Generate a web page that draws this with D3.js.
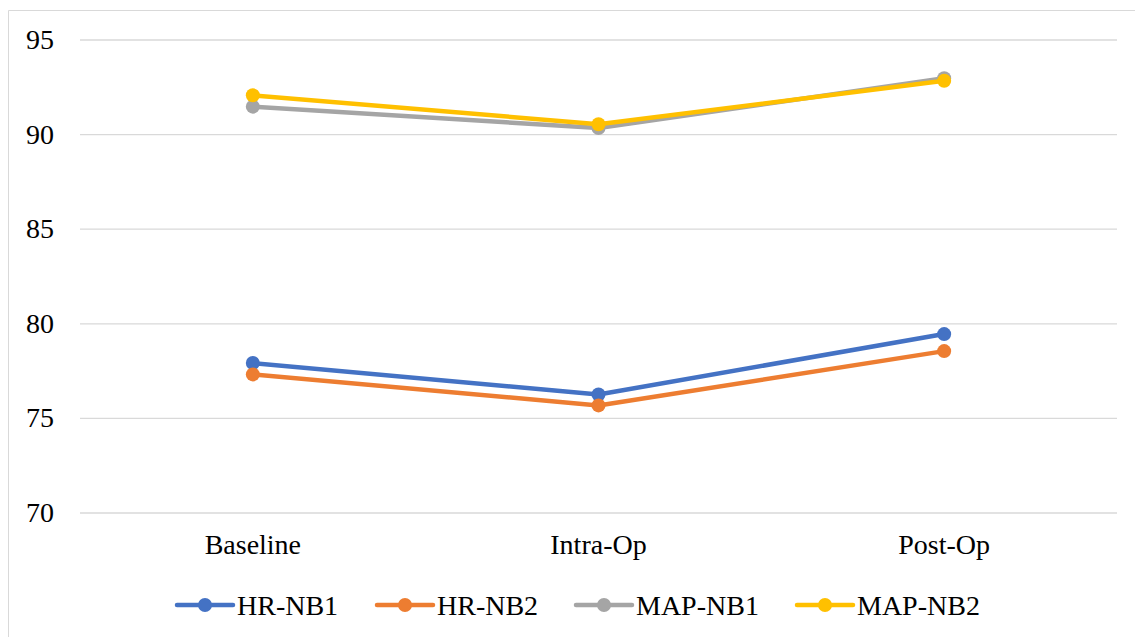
<!DOCTYPE html>
<html><head><meta charset="utf-8">
<script src="https://cdn.jsdelivr.net/npm/d3@7"></script>
<style>body{margin:0;background:#fff}svg{display:block}</style>
</head><body>
<svg id="chart" width="1135" height="637"></svg>
<script>
const categories = ["Baseline", "Intra-Op", "Post-Op"];
const seriesNames = ["HR-NB1", "HR-NB2", "MAP-NB1", "MAP-NB2"];
const hrNB1 = [77.9, 76.24, 79.43];
const hrNB2 = [77.3, 75.66, 78.53];
const mapNB1 = [91.45, 90.32, 92.95];
const mapNB2 = [92.05, 90.52, 92.82];
const yTicks = [70, 75, 80, 85, 90, 95];
const colors = ["#4472C4", "#ED7D31", "#A5A5A5", "#FFC000"];

(function () {
const series = [hrNB1, hrNB2, mapNB1, mapNB2].map((v, i) => ({name: seriesNames[i], values: v, color: colors[i]}));

const svg = d3.select("#chart");
const font = "'Liberation Serif', 'Times New Roman', serif";

svg.append("path").attr("d", "M8.5,637 V10.5 H1135").attr("fill", "none").attr("stroke", "#d9d9d9").attr("stroke-width", 1);

const pLeft = 80, pRight = 1117, pTop = 39.5, pBottom = 512.5;
const x = d3.scaleBand().domain(categories).range([pLeft, pRight]);
const y = d3.scaleLinear().domain([70, 95]).range([pBottom, pTop]);

const yAxis = d3.axisLeft(y).tickValues(yTicks).tickSize(-(pRight - pLeft)).tickPadding(26).tickFormat(d3.format("d"));
const gy = svg.append("g").attr("transform", `translate(${pLeft},0)`).call(yAxis);
gy.select(".domain").remove();
gy.selectAll(".tick line").attr("stroke", "#d9d9d9").attr("stroke-width", 1.3);
gy.selectAll(".tick text").attr("font-family", font).attr("font-size", 28).attr("fill", "#000");

const xAxis = d3.axisBottom(x).tickSize(0).tickPadding(22);
const gx = svg.append("g").attr("transform", `translate(0,${pBottom})`).call(xAxis);
gx.select(".domain").remove();
gx.selectAll(".tick text").attr("font-family", font).attr("font-size", 28).attr("fill", "#000");

const line = d3.line().x((d, i) => x(categories[i]) + x.bandwidth() / 2).y(d => y(d));

series.forEach(s => {
  const g = svg.append("g");
  g.append("path").datum(s.values).attr("d", line).attr("fill", "none")
    .attr("stroke", s.color).attr("stroke-width", 4.5).attr("stroke-linejoin", "round").attr("stroke-linecap", "round");
  g.selectAll("circle").data(s.values).enter().append("circle")
    .attr("cx", (d, i) => x(categories[i]) + x.bandwidth() / 2)
    .attr("cy", d => y(d)).attr("r", 7).attr("fill", s.color);
});

const legendX = [177, 377, 576, 797];
const ly = 605;
series.forEach((s, i) => {
  const g = svg.append("g").attr("transform", `translate(${legendX[i]},${ly})`);
  g.append("line").attr("x1", 0).attr("x2", 56).attr("y1", 0).attr("y2", 0)
    .attr("stroke", s.color).attr("stroke-width", 4.5).attr("stroke-linecap", "round");
  g.append("circle").attr("cx", 28).attr("cy", 0).attr("r", 7).attr("fill", s.color);
  g.append("text").attr("x", 60).attr("y", 9.5).attr("font-family", font).attr("font-size", 28).attr("fill", "#000").text(s.name);
});
})();
</script>
</body></html>
